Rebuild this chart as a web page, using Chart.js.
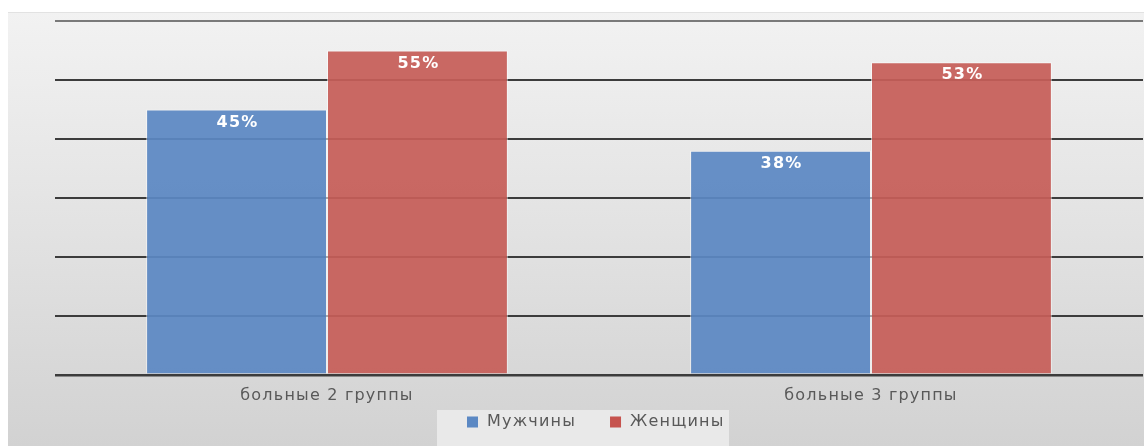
<!DOCTYPE html>
<html>
<head>
<meta charset="utf-8">
<script src="https://cdn.jsdelivr.net/npm/chart.js@4"></script>
<style>
  html, body { margin: 0; padding: 0; background: #fff; }
  #panel {
    position: absolute; left: 8px; top: 12px; width: 1136px; height: 434px;
    background: linear-gradient(180deg, #f2f2f2 0%, #e4e4e4 45%, #d2d2d2 100%);
    box-shadow: inset 0 1px 0 #e2e2e2;
  }
  canvas { display: block; }
</style>
</head>
<body>
<div id="panel"><canvas id="chart" width="1136" height="434"></canvas></div>
<script>
  // categories & series
  const categories = ['больные 2 группы', 'больные 3 группы'];
  const menValues = [45, 38];
  const womenValues = [55, 53];
  const seriesNames = ['Мужчины', 'Женщины'];

  const BLUE = 'rgba(91,136,195,0.93)';
  const RED = 'rgba(198,94,88,0.93)';
  const LEGEND_BLUE = '#5b88c3';
  const LEGEND_RED = '#c6534e';
  const FONT = '"DejaVu Sans", sans-serif';
  const SPACING = '1.2px';

  // the source picture is stretched sideways, so widen the text to match
  const wideText = {
    id: 'wideText',
    beforeUpdate(chart) { chart.ctx.letterSpacing = SPACING; },
    beforeLayout(chart) { chart.ctx.letterSpacing = SPACING; },
    beforeDraw(chart) { chart.ctx.letterSpacing = SPACING; }
  };

  // white % labels inside the bar tops
  const barLabels = {
    id: 'barLabels',
    afterDatasetsDraw(chart) {
      const ctx = chart.ctx;
      ctx.save();
      ctx.letterSpacing = SPACING;
      ctx.fillStyle = '#ffffff';
      ctx.font = 'bold 16px ' + FONT;
      ctx.textAlign = 'center';
      ctx.textBaseline = 'middle';
      chart.data.datasets.forEach((ds, i) => {
        chart.getDatasetMeta(i).data.forEach((bar, j) => {
          ctx.fillText(ds.data[j] + '%', bar.x + 1, bar.y + 13);
        });
      });
      ctx.restore();
    }
  };

  // legend under the axis, on its own lighter box
  const bottomLegend = {
    id: 'bottomLegend',
    afterDraw(chart) {
      const ctx = chart.ctx;
      const colors = [LEGEND_BLUE, LEGEND_RED];
      ctx.save();
      ctx.letterSpacing = SPACING;
      ctx.fillStyle = 'rgba(234,234,234,0.95)';
      ctx.fillRect(429, 398, 292, 36);
      ctx.font = '16px ' + FONT;
      ctx.textBaseline = 'middle';
      let x = 459;
      const cy = 410;
      seriesNames.forEach((name, i) => {
        ctx.fillStyle = colors[i];
        ctx.fillRect(x, cy - 5.5, 11, 11);
        ctx.fillStyle = '#595959';
        ctx.fillText(name, x + 20, cy);
        x += 20 + ctx.measureText(name).width + 34;
      });
      ctx.restore();
    }
  };

  new Chart(document.getElementById('chart'), {
    type: 'bar',
    data: {
      labels: categories,
      datasets: [
        { label: seriesNames[0], data: menValues, backgroundColor: BLUE,
          borderColor: 'rgba(255,255,255,0.55)', borderWidth: 1, borderSkipped: 'bottom' },
        { label: seriesNames[1], data: womenValues, backgroundColor: RED,
          borderColor: 'rgba(255,255,255,0.55)', borderWidth: 1, borderSkipped: 'bottom' }
      ]
    },
    options: {
      responsive: false,
      animation: false,
      layout: { padding: { left: 47, right: 1, top: 9, bottom: 30 } },
      datasets: { bar: { barPercentage: 1.0, categoryPercentage: 0.665 } },
      scales: {
        x: {
          grid: { display: false, drawTicks: false },
          border: { display: false },
          ticks: { color: '#595959', font: { family: FONT, size: 16 }, padding: 11 }
        },
        y: {
          min: 0, max: 60,
          ticks: { stepSize: 10, display: false },
          grid: {
            color: (c) => c.tick && c.tick.value === 60 ? '#7a7a7a' : '#3c3c3c',
            lineWidth: (c) => c.tick && c.tick.value === 0 ? 2.5 : 2,
            drawTicks: false
          },
          border: { display: false }
        }
      },
      plugins: {
        legend: { display: false },
        tooltip: { enabled: false }
      }
    },
    plugins: [wideText, barLabels, bottomLegend]
  });
</script>
</body>
</html>
